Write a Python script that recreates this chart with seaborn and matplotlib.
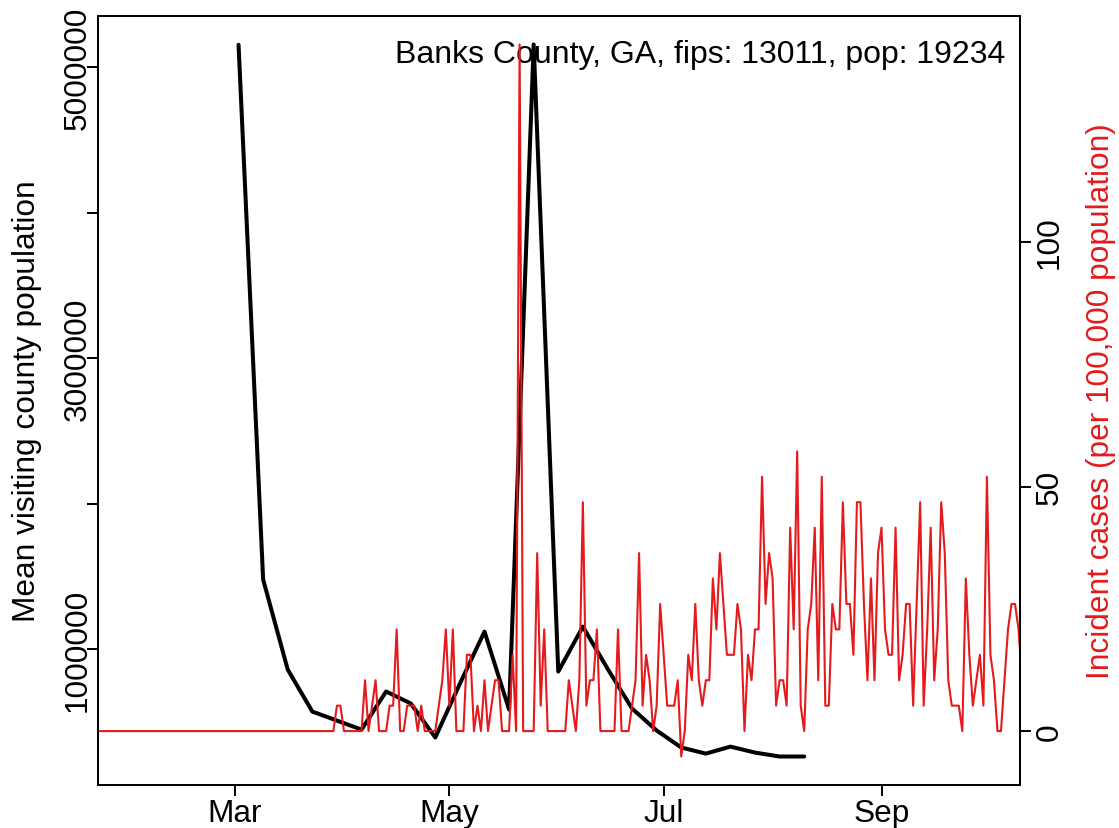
import pandas as pd
import matplotlib
matplotlib.use("Agg")
import matplotlib.pyplot as plt
import matplotlib.dates as mdates
import seaborn as sns

# ================================
# Data
# ================================

county_label = "Banks County, GA, fips: 13011, pop: 19234"
county_pop = 19234

# weekly mean visiting population, weeks starting 2020-03-02
visit_start = "2020-03-02"
visit_pop = [5155000, 1478000, 859000, 570000, 508000, 446000, 708000, 626000,
             392000, 762000, 1120000, 584000, 5157000, 845000, 1154000, 866000,
             591000, 440000, 323000, 281000, 329000, 288000, 261000, 261000]

# daily new cases, starting 2020-01-22
cases_start = "2020-01-22"
daily_cases = [0, 0, 0, 0, 0, 0, 0, 0, 0, 0, 0, 0, 0, 0, 0, 0, 0, 0, 0, 0,
               0, 0, 0, 0, 0, 0, 0, 0, 0, 0, 0, 0, 0, 0, 0, 0, 0, 0, 0, 0,
               0, 0, 0, 0, 0, 0, 0, 0, 0, 0, 0, 0, 0, 0, 0, 0, 0, 0, 0, 0,
               0, 0, 0, 0, 0, 0, 0,
               0, 1, 1, 0, 0, 0, 0, 0, 0, 2,
               0, 1, 2, 0, 0, 0, 1, 1, 4, 0,
               0, 1, 1, 1, 0, 1, 0, 0, 0, 0,
               1, 2, 4, 1, 4, 0, 0, 0, 3, 3,
               0, 1, 0, 2, 0, 1, 2, 2, 0, 0,
               0, 3, 0, 27, 0, 0, 0, 0, 7, 1,
               4, 0, 0, 0, 0, 0, 0, 2, 1, 0,
               2, 9, 1, 2, 2, 4, 0, 0, 0, 0,
               0, 4, 0, 0, 0, 1, 2, 7, 1, 3,
               2, 0, 1, 5, 3, 1, 1, 1, 2, -1,
               0, 3, 2, 5, 2, 1, 2, 2, 6, 4,
               7, 5, 3, 3, 3, 5, 4, 0, 3, 2,
               4, 4, 10, 5, 7, 6, 1, 2, 2, 1,
               8, 4, 11, 1, 0, 4, 5, 8, 2, 10,
               1, 1, 5, 4, 4, 9, 5, 5, 3, 9,
               9, 5, 2, 6, 2, 7, 8, 4, 3, 3,
               8, 2, 3, 5, 5, 1, 5, 9, 1, 4,
               8, 2, 4, 9, 7, 2, 1, 1, 1, 0,
               6, 3, 1, 2, 3, 1, 10, 3, 2, 0,
               0, 2, 4, 5, 5, 4, 2]

x_end = "2020-10-10 10:00"
month_ticks = ["2020-03-01", "2020-05-01", "2020-07-01", "2020-09-01"]
month_labels = ["Mar", "May", "Jul", "Sep"]
left_ticks = [1000000, 2000000, 3000000, 4000000, 5000000]
left_labels = ["1000000", "", "3000000", "", "5000000"]
right_ticks = [0, 50, 100]

visits = pd.DataFrame({
    "date": pd.date_range(visit_start, periods=len(visit_pop), freq="7D"),
    "pop": visit_pop,
})
cases = pd.DataFrame({
    "date": pd.date_range(cases_start, periods=len(daily_cases), freq="D"),
    "rate": [c / county_pop * 100000 for c in daily_cases],
})


def r_range(values):
    # base R style 4% padding
    lo, hi = min(values), max(values)
    pad = (hi - lo) * 0.04
    return lo - pad, hi + pad


# ================================
# Plot
# ================================

sns.set_theme(style="white")
plt.rcParams["font.family"] = ["Liberation Sans", "DejaVu Sans"]
fs = 22.8
red = "#E41A1C"

fig = plt.figure(figsize=(11.19, 8.29), dpi=100)
ax = fig.add_axes([0.08758, 0.05187, 0.82395, 0.92762])

sns.lineplot(data=visits, x="date", y="pop", ax=ax, color="black", lw=2.9)
ax.set_ylim(*r_range(visit_pop))
ax.set_yticks(left_ticks)
ax.set_yticklabels(left_labels, rotation=90, va="center")

ax2 = ax.twinx()
sns.lineplot(data=cases, x="date", y="rate", ax=ax2, color=red, lw=1.5)
ax2.set_ylim(*r_range(cases["rate"]))
ax2.set_yticks(right_ticks)
ax2.set_yticklabels([str(t) for t in right_ticks], rotation=90, va="center")

ax.set_xlim(pd.Timestamp(cases_start), pd.Timestamp(x_end))
ax.set_xticks([mdates.date2num(pd.Timestamp(d)) for d in month_ticks])
ax.set_xticklabels(month_labels)

for a in (ax, ax2):
    a.set_xlabel("")
    a.set_ylabel("")
    for sp in a.spines.values():
        sp.set_color("black")
        sp.set_linewidth(1.4)
ax.tick_params(axis="both", which="both", direction="out", length=8, width=1.4,
               color="black", labelsize=fs, labelcolor="black",
               bottom=True, left=True)
ax.tick_params(axis="x", pad=1.5)
ax.tick_params(axis="y", pad=-4)
ax2.tick_params(axis="y", direction="out", length=8, width=1.4, color="black",
                labelsize=fs, labelcolor="black", right=True, pad=2.5)

ax.text(0.9837, 0.95, county_label, transform=ax.transAxes,
        ha="right", va="center", fontsize=23.05, color="black")

fig.text(27 / 1119, 1 - 401 / 829, "Mean visiting county population",
         rotation=90, ha="center", va="center", fontsize=fs, color="black")
fig.text(1101 / 1119, 1 - 401 / 829, "Incident cases (per 100,000 population)",
         rotation=90, ha="center", va="center", fontsize=fs, color=red)

fig.savefig("out.png", dpi=100)
